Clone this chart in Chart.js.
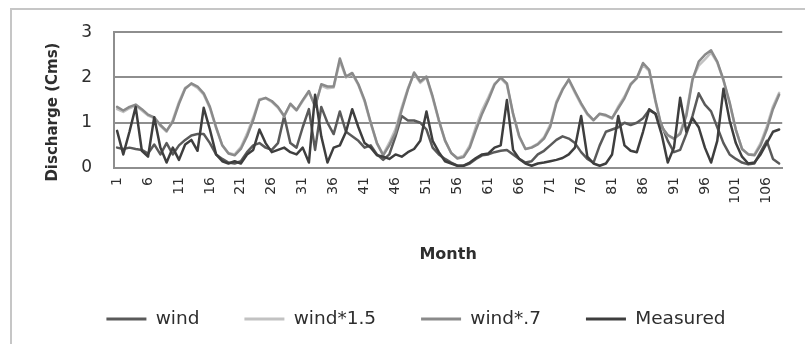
<!DOCTYPE html>
<html>
<head>
<meta charset="utf-8">
<title>Discharge by month</title>
<script src="https://cdn.jsdelivr.net/npm/chart.js@4.4.1/dist/chart.umd.min.js"></script>
<style>
  html, body { margin: 0; padding: 0; background: #ffffff; }
  #frame {
    position: absolute; left: 10px; top: 8px; width: 805px; height: 344px;
    border-left: 2px solid #c6c6c6; border-top: 2px solid #c6c6c6;
  }
  #wrap { position: absolute; left: 0; top: 0; width: 805px; height: 344px; }
</style>
</head>
<body>
<div id="frame"></div>
<div id="wrap"><canvas id="chart" width="805" height="344"></canvas></div>
<script>
// Month numbers along the x axis
const months = [
  1, 2, 3, 4, 5, 6, 7, 8, 9, 10,
  11, 12, 13, 14, 15, 16, 17, 18, 19, 20,
  21, 22, 23, 24, 25, 26, 27, 28, 29, 30,
  31, 32, 33, 34, 35, 36, 37, 38, 39, 40,
  41, 42, 43, 44, 45, 46, 47, 48, 49, 50,
  51, 52, 53, 54, 55, 56, 57, 58, 59, 60,
  61, 62, 63, 64, 65, 66, 67, 68, 69, 70,
  71, 72, 73, 74, 75, 76, 77, 78, 79, 80,
  81, 82, 83, 84, 85, 86, 87, 88, 89, 90,
  91, 92, 93, 94, 95, 96, 97, 98, 99, 100,
  101, 102, 103, 104, 105, 106, 107, 108
];

// Months that get a printed tick label
const tickMonths = [1, 6, 11, 16, 21, 26, 31, 36, 41, 46, 51, 56, 61, 66, 71, 76, 81, 86, 91, 96, 101, 106];

// Simulated discharge, wind forcing as is (Cms)
const wind = [
  0.45, 0.42, 0.45, 0.42, 0.40, 0.32, 0.52, 0.30, 0.55, 0.30,
  0.50, 0.62, 0.72, 0.75, 0.75, 0.55, 0.30, 0.20, 0.12, 0.10,
  0.15, 0.35, 0.50, 0.55, 0.45, 0.40, 0.55, 1.15, 0.55, 0.45,
  0.90, 1.30, 0.40, 1.35, 1.00, 0.75, 1.25, 0.80, 0.70, 0.60,
  0.45, 0.50, 0.30, 0.18, 0.30, 0.70, 1.15, 1.05, 1.05, 1.00,
  0.85, 0.45, 0.30, 0.20, 0.12, 0.05, 0.05, 0.10, 0.20, 0.28,
  0.30, 0.35, 0.38, 0.40, 0.30, 0.20, 0.12, 0.15, 0.30, 0.38,
  0.50, 0.62, 0.70, 0.65, 0.55, 0.35, 0.20, 0.12, 0.50, 0.80,
  0.85, 0.90, 1.00, 0.95, 1.00, 1.10, 1.28, 1.20, 0.95, 0.60,
  0.35, 0.40, 0.75, 1.15, 1.65, 1.40, 1.25, 0.90, 0.55, 0.30,
  0.20, 0.12, 0.08, 0.10, 0.35, 0.60, 0.20, 0.10
];

// Simulated discharge, wind forcing scaled by 1.5 (Cms)
const wind15 = [
  1.30, 1.24, 1.32, 1.38, 1.27, 1.16, 1.10, 0.93, 0.80, 1.06,
  1.46, 1.77, 1.85, 1.77, 1.62, 1.32, 0.88, 0.50, 0.33, 0.30,
  0.46, 0.76, 1.12, 1.52, 1.54, 1.46, 1.33, 1.14, 1.40, 1.27,
  1.48, 1.68, 1.38, 1.82, 1.76, 1.78, 2.36, 2.00, 2.08, 1.83,
  1.47, 0.98, 0.54, 0.30, 0.56, 0.86, 1.34, 1.76, 2.08, 1.88,
  2.00, 1.55, 1.04, 0.60, 0.33, 0.22, 0.27, 0.50, 0.92, 1.28,
  1.56, 1.86, 1.98, 1.84, 1.18, 0.68, 0.42, 0.46, 0.54, 0.68,
  0.96, 1.47, 1.75, 1.94, 1.66, 1.40, 1.18, 1.05, 1.19, 1.15,
  1.09, 1.36, 1.58, 1.86, 1.98, 2.28, 2.14, 1.47, 0.90, 0.72,
  0.64, 0.78, 1.22, 1.98, 2.26, 2.40, 2.55, 2.33, 1.93, 1.43,
  0.84, 0.42, 0.31, 0.30, 0.55, 0.92, 1.36, 1.66
];

// Simulated discharge, wind forcing scaled by 0.7 (Cms)
const wind07 = [
  1.35, 1.27, 1.35, 1.40, 1.30, 1.18, 1.12, 0.95, 0.82, 1.02,
  1.42, 1.75, 1.87, 1.80, 1.65, 1.35, 0.90, 0.50, 0.32, 0.28,
  0.42, 0.70, 1.06, 1.50, 1.55, 1.48, 1.35, 1.15, 1.42, 1.28,
  1.50, 1.70, 1.35, 1.85, 1.80, 1.80, 2.42, 2.02, 2.10, 1.85,
  1.50, 1.00, 0.55, 0.28, 0.50, 0.78, 1.28, 1.73, 2.11, 1.91,
  2.02, 1.58, 1.06, 0.61, 0.33, 0.21, 0.24, 0.45, 0.84, 1.20,
  1.50, 1.84, 2.00, 1.87, 1.20, 0.70, 0.42, 0.45, 0.52, 0.65,
  0.91, 1.43, 1.73, 1.96, 1.69, 1.43, 1.20, 1.06, 1.20, 1.17,
  1.10, 1.32, 1.54, 1.84, 1.99, 2.32, 2.17, 1.50, 0.91, 0.73,
  0.65, 0.75, 1.15, 1.95, 2.35, 2.50, 2.60, 2.35, 1.95, 1.45,
  0.85, 0.42, 0.30, 0.28, 0.50, 0.85, 1.30, 1.62
];

// Gauged discharge (Cms)
const measured = [
  0.82, 0.30, 0.80, 1.35, 0.38, 0.25, 1.12, 0.45, 0.12, 0.45,
  0.18, 0.52, 0.62, 0.38, 1.33, 0.85, 0.30, 0.15, 0.10, 0.15,
  0.10, 0.30, 0.40, 0.85, 0.55, 0.35, 0.40, 0.45, 0.35, 0.30,
  0.45, 0.12, 1.62, 0.70, 0.12, 0.45, 0.50, 0.80, 1.30, 0.90,
  0.55, 0.45, 0.28, 0.25, 0.20, 0.30, 0.25, 0.35, 0.42, 0.60,
  1.25, 0.60, 0.35, 0.15, 0.10, 0.05, 0.05, 0.12, 0.22, 0.30,
  0.32, 0.45, 0.50, 1.50, 0.40, 0.20, 0.10, 0.05, 0.10, 0.12,
  0.15, 0.18, 0.22, 0.30, 0.45, 1.15, 0.25, 0.10, 0.05, 0.10,
  0.30, 1.15, 0.50, 0.38, 0.35, 0.80, 1.30, 1.20, 0.75, 0.12,
  0.45, 1.55, 0.80, 1.10, 0.90, 0.45, 0.12, 0.60, 1.75, 1.05,
  0.55, 0.25, 0.10, 0.12, 0.30, 0.55, 0.80, 0.85
];

const seriesNames = ['wind', 'wind*1.5', 'wind*.7', 'Measured'];
const seriesColors = ['#5a5a5a', '#c2c2c2', '#8a8a8a', '#3e3e3e'];
const yTicks = [0, 1, 2, 3];
const yTitle = 'Discharge (Cms)';

const FONT = "'DejaVu Sans', 'Liberation Sans', sans-serif";
const axisGray = '#8e8e8e';
const textColor = '#2e2e2e';

Chart.defaults.font.family = FONT;

function series(i, values, order) {
  return {
    label: seriesNames[i],
    data: values,
    borderColor: seriesColors[i],
    backgroundColor: seriesColors[i],
    borderWidth: 2.5,
    borderJoinStyle: 'round',
    borderCapStyle: 'round',
    pointRadius: 0,
    tension: 0,
    fill: false,
    order: order
  };
}

// Vertical axis title, set a little below the middle of the value axis
const valueAxisTitle = {
  id: 'valueAxisTitle',
  afterDraw(chart) {
    const { ctx, chartArea } = chart;
    const ys = chart.scales.y;
    const size = 15;
    ctx.save();
    ctx.translate(ys.left + 4 + size * 0.6, (chartArea.top + chartArea.bottom) / 2 + 12);
    ctx.rotate(-Math.PI / 2);
    ctx.font = 'bold ' + size + 'px ' + FONT;
    ctx.fillStyle = textColor;
    ctx.textAlign = 'center';
    ctx.textBaseline = 'middle';
    ctx.fillText(yTitle, 0, 0);
    ctx.restore();
  }
};

new Chart(document.getElementById('chart'), {
  type: 'line',
  data: {
    labels: months,
    datasets: [
      series(0, wind, 4),
      series(1, wind15, 3),
      series(2, wind07, 2),
      series(3, measured, 1)
    ]
  },
  plugins: [valueAxisTitle],
  options: {
    responsive: false,
    animation: false,
    devicePixelRatio: 1,
    layout: { padding: { left: 40, right: 13, top: 32, bottom: 5.75 } },
    scales: {
      x: {
        type: 'category',
        offset: true,
        grid: { display: false, drawTicks: false },
        border: { display: true, color: axisGray, width: 2 },
        ticks: {
          autoSkip: false,
          minRotation: 90,
          maxRotation: 90,
          padding: 9,
          color: textColor,
          font: { size: 14 },
          callback: (value, index) => tickMonths.includes(months[index]) ? String(months[index]) : ''
        },
        title: {
          display: true,
          text: 'Month',
          color: textColor,
          font: { size: 16, weight: 'bold' },
          padding: { top: 4, bottom: 0 }
        },
        afterFit: (scale) => { scale.height = 96.75; }
      },
      y: {
        min: 0,
        max: 3,
        afterBuildTicks: (scale) => { scale.ticks = yTicks.map(v => ({ value: v })); },
        grid: { color: axisGray, lineWidth: 2, drawTicks: false },
        border: { display: true, color: axisGray, width: 2 },
        ticks: { padding: 22, color: textColor, font: { size: 17 } },
        afterFit: (scale) => { scale.width = 74; }
      }
    },
    plugins: {
      tooltip: { enabled: false },
      legend: {
        position: 'bottom',
        labels: {
          boxWidth: 40,
          boxHeight: 3,
          padding: 45,
          color: textColor,
          font: { size: 18.5 },
          sort: (a, b) => a.datasetIndex - b.datasetIndex,
          generateLabels: (chart) => {
            const items = Chart.defaults.plugins.legend.labels.generateLabels(chart);
            items.forEach(it => { it.fillStyle = it.strokeStyle; it.lineWidth = 0; });
            return items;
          }
        }
      }
    }
  }
});
</script>
</body>
</html>
